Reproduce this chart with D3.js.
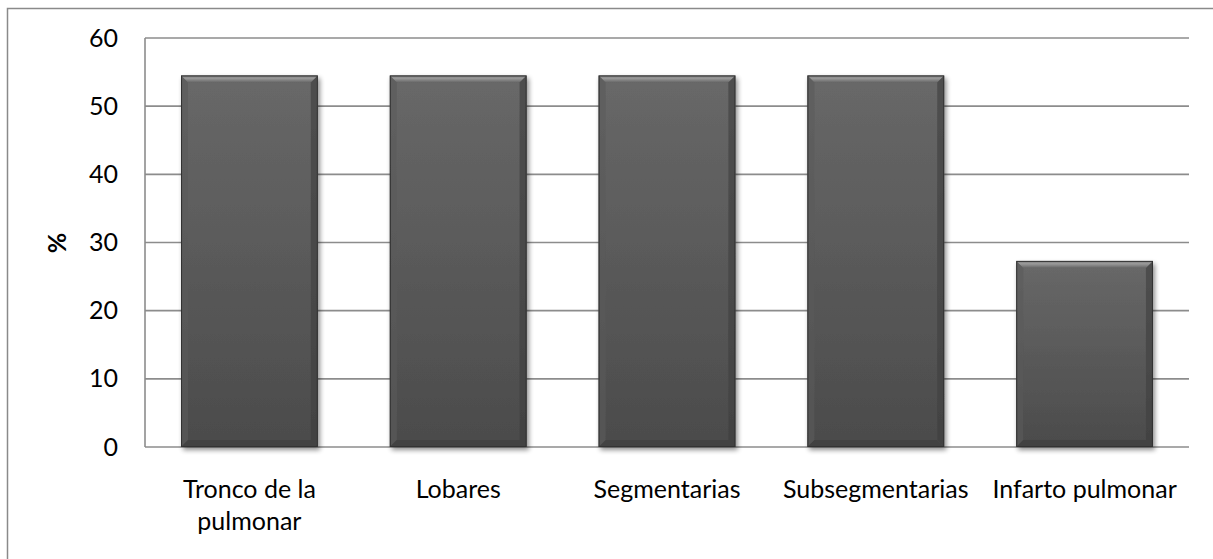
<!DOCTYPE html>
<html><head><meta charset="utf-8">
<script src="https://cdn.jsdelivr.net/npm/d3@7"></script>
<style>
html,body{margin:0;padding:0;background:#fff;}
svg{display:block;font-family:Lato,"Open Sans",sans-serif;}
</style></head>
<body>
<svg id="chart" width="1213" height="559"></svg>
<script>
const categories = ["Tronco de la pulmonar","Lobares","Segmentarias","Subsegmentarias","Infarto pulmonar"];
const categoryLines = [["Tronco de la","pulmonar"],["Lobares"],["Segmentarias"],["Subsegmentarias"],["Infarto pulmonar"]];
const values = [54.5, 54.5, 54.5, 54.5, 27.3];
const yTicks = [0,10,20,30,40,50,60];
const yLabel = "%";

const svg = d3.select("#chart");
const W = 1213, H = 559;
const m = {left:145, right:1213-1189, top:38, bottom:559-447};
const iw = W - m.left - m.right, ih = H - m.top - m.bottom;

// outer chart border (right/bottom run off the page)
svg.append("rect").attr("x",7.5).attr("y",8.5).attr("width",1220).attr("height",600)
  .attr("fill","#fff").attr("stroke","#8a8a8a").attr("stroke-width",1.5);

const defs = svg.append("defs");
const g1 = defs.append("linearGradient").attr("id","barGrad").attr("x1",0).attr("y1",0).attr("x2",0).attr("y2",1);
g1.append("stop").attr("offset","0%").attr("stop-color","#686868");
g1.append("stop").attr("offset","100%").attr("stop-color","#4b4b4b");
const g2 = defs.append("linearGradient").attr("id","bevelTop").attr("x1",0).attr("y1",0).attr("x2",0).attr("y2",1);
g2.append("stop").attr("offset","0%").attr("stop-color","#7a7a7a");
g2.append("stop").attr("offset","40%").attr("stop-color","#9a9a9a");
g2.append("stop").attr("offset","100%").attr("stop-color","#666");
const f = defs.append("filter").attr("id","shadow").attr("x","-10%").attr("y","-10%").attr("width","130%").attr("height","130%");
f.append("feGaussianBlur").attr("in","SourceAlpha").attr("stdDeviation",2.5).attr("result","b");
f.append("feOffset").attr("in","b").attr("dx",1.5).attr("dy",3).attr("result","o");
f.append("feComponentTransfer").attr("in","o").attr("result","oa").append("feFuncA").attr("type","linear").attr("slope",0.45);
const fm = f.append("feMerge");
fm.append("feMergeNode").attr("in","oa");
fm.append("feMergeNode").attr("in","SourceGraphic");

const g = svg.append("g").attr("transform",`translate(${m.left},${m.top})`);
const x = d3.scaleBand().domain(categories).range([0,iw]).paddingInner(0.345).paddingOuter(0.1725);
const y = d3.scaleLinear().domain([0,60]).range([ih,0]);

// gridlines
g.append("g").selectAll("line").data(yTicks).join("line")
  .attr("x1",0).attr("x2",iw).attr("y1",d=>y(d)).attr("y2",d=>y(d))
  .attr("stroke","#8c8c8c").attr("stroke-width",1.6);
// y axis line
g.append("line").attr("x1",0).attr("x2",0).attr("y1",0).attr("y2",ih).attr("stroke","#8c8c8c").attr("stroke-width",1.6);

// y tick labels
const yAxis = d3.axisLeft(y).tickValues(yTicks).tickSize(0).tickPadding(27);
const ya = g.append("g").call(yAxis);
ya.select(".domain").remove();
ya.selectAll("text").attr("font-size",25).attr("fill","#000").attr("font-family","Lato,'Open Sans',sans-serif");

// bars
const bars = g.append("g").selectAll("g").data(categories).join("g")
  .attr("filter","url(#shadow)");
bars.each(function(c,i){
  const s = d3.select(this);
  const bx = x(c), bw = x.bandwidth(), by = y(values[i]), bh = ih - y(values[i]);
  s.append("rect").attr("x",bx).attr("y",by).attr("width",bw).attr("height",bh).attr("fill","url(#barGrad)");
  const bv = 7;
  s.append("path").attr("d",`M${bx},${by}L${bx+bw},${by}L${bx+bw-bv},${by+bv}L${bx+bv},${by+bv}Z`).attr("fill","url(#bevelTop)");
  s.append("path").attr("d",`M${bx},${by}L${bx+bv},${by+bv}L${bx+bv},${by+bh-bv}L${bx},${by+bh}Z`).attr("fill","#5a5a5a").attr("opacity",0.6);
  s.append("path").attr("d",`M${bx+bw},${by}L${bx+bw-bv},${by+bv}L${bx+bw-bv},${by+bh-bv}L${bx+bw},${by+bh}Z`).attr("fill","#3e3e3e").attr("opacity",0.6);
  s.append("path").attr("d",`M${bx},${by+bh}L${bx+bv},${by+bh-bv}L${bx+bw-bv},${by+bh-bv}L${bx+bw},${by+bh}Z`).attr("fill","#3a3a3a").attr("opacity",0.5);
  s.append("rect").attr("x",bx+0.5).attr("y",by+0.5).attr("width",bw-1).attr("height",bh-1).attr("fill","none").attr("stroke","#333").attr("stroke-width",1);
});

// x labels
const xl = g.append("g").selectAll("text").data(categories).join("text")
  .attr("x",c=>x(c)+x.bandwidth()/2).attr("y",ih+51)
  .attr("text-anchor","middle").attr("font-size",25).attr("fill","#000");
xl.each(function(c,i){
  const t = d3.select(this);
  categoryLines[i].forEach((ln,j)=>{
    t.append("tspan").attr("x",x(c)+x.bandwidth()/2).attr("dy",j===0?0:32).text(ln);
  });
});

// y label
svg.append("text").attr("transform","translate(66,243) rotate(-90)")
  .attr("text-anchor","middle").attr("font-size",25).attr("font-weight","bold").attr("fill","#000").text(yLabel);
</script>
</body></html>
